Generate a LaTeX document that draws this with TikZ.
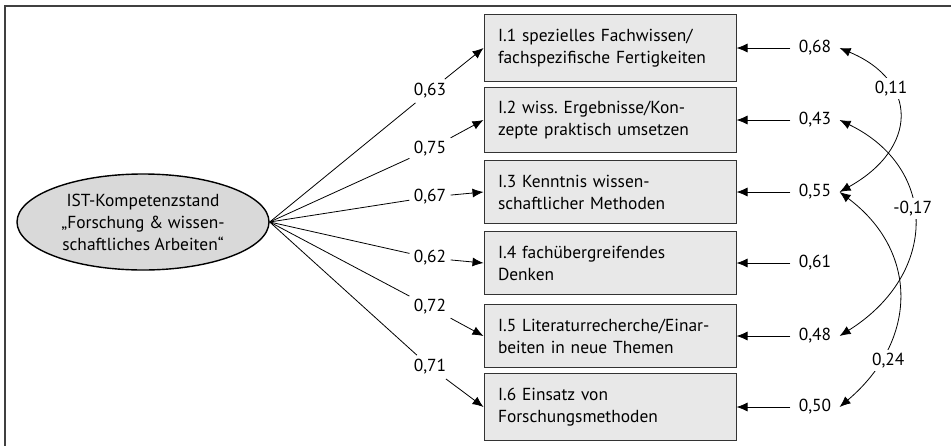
\documentclass[tikz,border=0pt]{standalone}
\usepackage{fontspec}
\setmainfont{PT Sans}
\usetikzlibrary{shapes.geometric, arrows.meta}

\tikzset{
	item/.style={draw=black!80, fill=gray!18, line width=0.5pt, text width=112pt, inner sep=7pt, minimum height=30pt, align=left},
	factor/.style={ellipse, draw=black, fill=gray!30, line width=0.7pt, minimum width=126pt, minimum height=48pt, inner sep=0pt, align=center},
	load/.style={inner sep=2pt},
	resid/.style={inner sep=4pt},
	corr/.style={fill=white, inner sep=1.5pt}
}

\begin{document}
\frenchspacing
\begin{tikzpicture}[x=0.5pt, y=0.5pt, line width=0.4pt, >={Latex[length=5.5pt,width=4.5pt]}, font=\fontsize{8.7}{11}\selectfont]
		\useasboundingbox (0,0) rectangle (951,446);
		\draw[black!75, line width=0.8pt] (951,440) -- (5,440) -- (5,0);

		\node[factor] (F) at (143,224) {IST-Kompetenzstand\\„Forschung \& wissen-\\schaftliches Arbeiten“};

		\node[item] (b1) at (610,398) {I.1 spezielles Fachwissen/\\fachspezifische Fertigkeiten};
		\node[item] (b2) at (610,326) {I.2 wiss. Ergebnisse/Kon-\\zepte praktisch umsetzen};
		\node[item] (b3) at (610,254) {I.3 Kenntnis wissen-\\schaftlicher Methoden};
		\node[item] (b4) at (610,183) {I.4 fachübergreifendes\\Denken};
		\node[item] (b5) at (610,110) {I.5 Literaturrecherche/Einar-\\beiten in neue Themen};
		\node[item] (b6) at (610,39) {I.6 Einsatz von\\Forschungsmethoden};

		\node[load] (l1) at (430,355) {0,63};
		\node[load] (l2) at (430,297) {0,75};
		\node[load] (l3) at (430,249) {0,67};
		\node[load] (l4) at (430,188) {0,62};
		\node[load] (l5) at (430,139) {0,72};
		\node[load] (l6) at (430,79) {0,71};

		\draw (F.east) -- (l1);
		\draw (F.east) -- (l2);
		\draw (F.east) -- (l3);
		\draw (F.east) -- (l4);
		\draw (F.east) -- (l5);
		\draw (F.east) -- (l6);
		\draw[->] (l1) -- (b1.west);
		\draw[->] (l2) -- (b2.west);
		\draw[->] (l3) -- (b3.west);
		\draw[->] (l4) -- (b4.west);
		\draw[->] (l5) -- (b5.west);
		\draw[->] (l6) -- (b6.west);

		\node[resid] (e1) at (815,398) {0,68};
		\node[resid] (e2) at (815,326) {0,43};
		\node[resid] (e3) at (815,254) {0,55};
		\node[resid] (e4) at (815,183) {0,61};
		\node[resid] (e5) at (815,110) {0,48};
		\node[resid] (e6) at (815,39) {0,50};

		\draw[->] (e1) -- (b1);
		\draw[->] (e2) -- (b2);
		\draw[->] (e3) -- (b3);
		\draw[->] (e4) -- (b4);
		\draw[->] (e5) -- (b5);
		\draw[->] (e6) -- (b6);

		\draw[<->] (e1.east) .. controls +(79,-33) and +(79,44) .. node[corr, pos=0.32] {0,11} (e3.east);
		\draw[<->] (e2.east) .. controls +(99,-48) and +(99,62) .. node[corr, pos=0.44] {-0,17} (e5.east);
		\draw[<->] (e3.east) .. controls +(79,-59) and +(79,67) .. node[corr, pos=0.78, xshift=4pt] {0,24} (e6.east);
	\end{tikzpicture}
\end{document}
